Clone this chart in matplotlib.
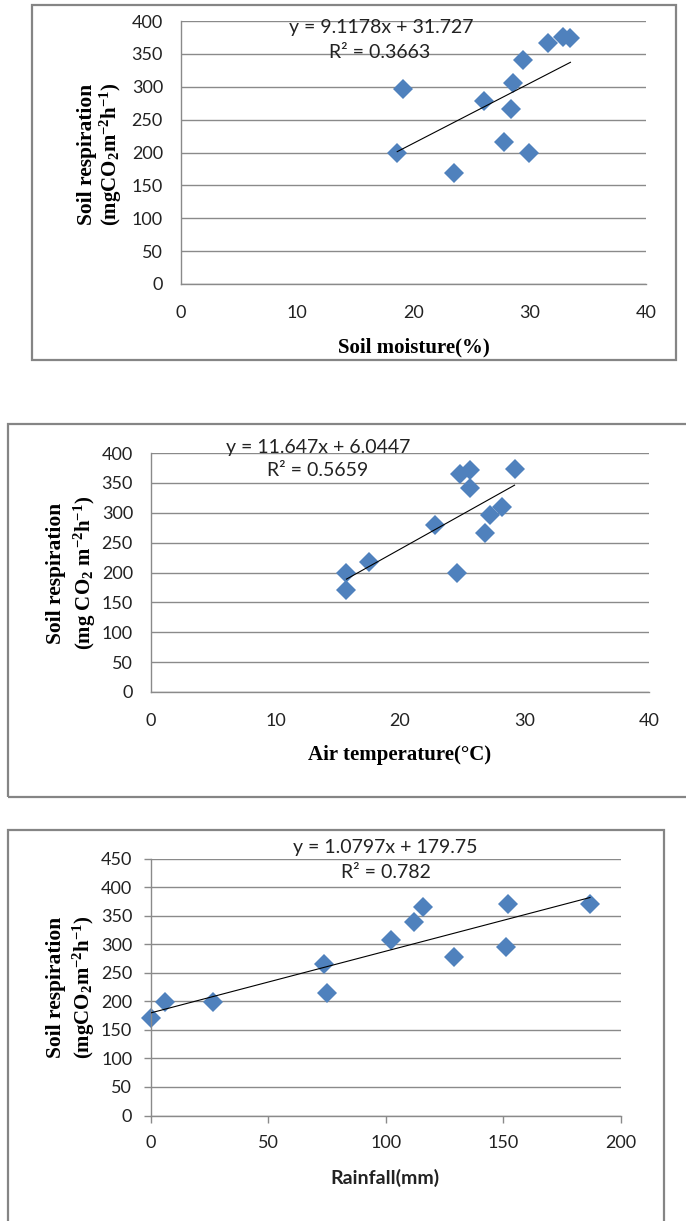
import matplotlib
matplotlib.use("Agg")
import numpy as np
import matplotlib.pyplot as plt
from matplotlib.patches import Rectangle

# soil moisture panel
moisture = [18.6, 19.1, 23.5, 26.1, 27.8, 28.4, 28.6, 29.4, 29.9, 31.6, 32.9, 33.5]
resp_moisture = [199, 297, 169, 278, 216, 266, 305, 341, 199, 366, 375, 374]

# air temperature panel
air_temp = [15.7, 15.7, 17.5, 22.8, 24.6, 24.8, 25.6, 25.6, 26.8, 27.2, 28.2, 29.2]
resp_temp = [200, 170, 218, 280, 200, 365, 372, 341, 266, 296, 309, 373]

# rainfall panel
rainfall = [0, 6.1, 26.3, 73.6, 74.9, 102.3, 112.2, 116, 129, 151.1, 152, 187]
resp_rain = [170, 199, 199, 266, 214, 307, 339, 365, 278, 295, 371, 371]

# trendline coefficients (slope, intercept) and R2 as printed
fit_moisture = (9.1178, 31.727, "0.3663")
fit_temp = (11.647, 6.0447, "0.5659")
fit_rain = (1.0797, 179.75, "0.782")

W, H = 686, 1221
GRID = "#8a8a8a"
BLUE = "#4f81bd"
SANS = "Lato"
SERIF = "Liberation Serif"

plt.rcParams.update({
    "mathtext.fontset": "custom",
    "mathtext.rm": "Liberation Serif:bold",
    "mathtext.it": "Liberation Serif:bold",
    "mathtext.bf": "Liberation Serif:bold",
})

fig = plt.figure(figsize=(W / 100, H / 100), dpi=100)


def fx(px):
    return px / W


def fy(py):
    return 1 - py / H


def border(x0, y0, x1, y1):
    fig.patches.append(Rectangle((fx(x0), fy(y1)), fx(x1) - fx(x0), fy(y0) - fy(y1),
                                 transform=fig.transFigure, fill=False,
                                 edgecolor="#858585", linewidth=1.6))


def panel(px_box, x, y, fit, xlim, xticks, ylim, yticks, eq_pos, ticks_out=False):
    x0, y0, x1, y1 = px_box
    ax = fig.add_axes([fx(x0), fy(y1), fx(x1) - fx(x0), fy(y0) - fy(y1)])
    ax.set_xlim(*xlim)
    ax.set_ylim(*ylim)
    ax.set_xticks(xticks)
    ax.set_yticks(yticks)
    ax.yaxis.grid(True, color=GRID, linewidth=1.0)
    ax.set_axisbelow(True)
    for s in ["top", "right"]:
        ax.spines[s].set_visible(False)
    for s in ["left", "bottom"]:
        ax.spines[s].set_color(GRID)
        ax.spines[s].set_linewidth(1.0)
    if ticks_out:
        ax.tick_params(length=5, color=GRID, width=1.0)
        ax.tick_params(axis="y", pad=8.5)
        ax.tick_params(axis="x", pad=9)
    else:
        ax.tick_params(length=0)
        ax.tick_params(axis="y", pad=13)
        ax.tick_params(axis="x", pad=15)
    for lab in ax.get_xticklabels() + ax.get_yticklabels():
        lab.set_fontfamily(SANS)
        lab.set_fontsize(13)
        lab.set_color("#222222")

    ax.plot(x, y, linestyle="none", marker="D", markersize=10,
            color=BLUE, markeredgewidth=0, zorder=2, clip_on=False)
    slope, icpt, r2 = fit
    xs = np.array([min(x), max(x)])
    ax.plot(xs, slope * xs + icpt, color="black", linewidth=0.8, zorder=3)

    ex, ey, rx, ry = eq_pos
    fig.text(fx(ex), fy(ey), f"y = {slope}x + {icpt}", family=SANS, fontsize=14,
             ha="center", va="center", color="#222222")
    fig.text(fx(rx), fy(ry), f"R² = {r2}", family=SANS, fontsize=14,
             ha="center", va="center", color="#222222")
    return ax


def ylabel(x_a, x_b, yc, second):
    fig.text(fx(x_a), fy(yc), "Soil respiration", family=SERIF, weight="bold",
             fontsize=15.5, rotation=90, ha="center", va="center")
    fig.text(fx(x_b), fy(yc), second, family=SERIF, weight="bold",
             fontsize=15, rotation=90, ha="center", va="center")


# panel 1
border(32, 5, 676, 360)
panel((181, 21, 646, 284), moisture, resp_moisture, fit_moisture,
      (0, 40), [0, 10, 20, 30, 40], (0, 400), range(0, 401, 50),
      (381, 27, 380, 52))
ylabel(87, 111, 154, r"(mgCO$_2$m$^{-2}$h$^{-1}$)")
fig.text(fx(414), fy(347), "Soil moisture(%)", family=SERIF, weight="bold",
         fontsize=15, ha="center", va="center")

# panel 2
border(8, 424, 692, 797)
panel((151, 453, 649, 692), air_temp, resp_temp, fit_temp,
      (0, 40), [0, 10, 20, 30, 40], (0, 400), range(0, 401, 50),
      (318, 447, 318, 471))
ylabel(56, 85, 573, r"(mg CO$_2$ m$^{-2}$h$^{-1}$)")
fig.text(fx(400), fy(755), "Air temperature(°C)", family=SERIF, weight="bold",
         fontsize=15, ha="center", va="center")

# panel 3
border(8, 830, 664, 1228)
panel((151, 858.5, 620.5, 1115.5), rainfall, resp_rain, fit_rain,
      (0, 200), [0, 50, 100, 150, 200], (0, 450), range(0, 451, 50),
      (385, 848, 386, 873), ticks_out=True)
ylabel(56, 84, 987, r"(mgCO$_2$m$^{-2}$h$^{-1}$)")
fig.text(fx(385), fy(1178), "Rainfall(mm)", family=SANS, weight="bold",
         fontsize=14, ha="center", va="center", color="#222222")

fig.savefig("out.png", dpi=100)
